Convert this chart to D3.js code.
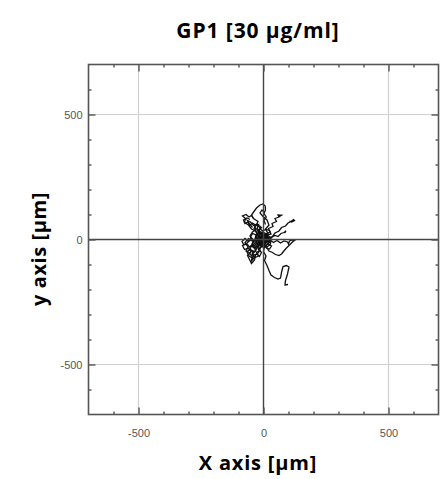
<!DOCTYPE html>
<html><head><meta charset="utf-8">
<script src="https://cdn.jsdelivr.net/npm/d3@7"></script>
<style>body{margin:0;background:#fff}</style>
</head><body>
<svg id="c" width="447" height="479"></svg>
<script>
const title = "GP1 [30 \u03bcg/ml]";
const xLabel = "X axis [\u03bcm]";
const yLabel = "y axis [\u03bcm]";
const domain = [-700, 700];
const majorTicks = [-500, 0, 500];
const minorTicks = d3.range(-600, 601, 100);
const gridValues = [-500, 500];

const trackA = [[0,0],[-8,12],[-4,24],[-18,32],[-12,46],[-28,58],[-22,72],[-40,84],[-48,98],[-38,112],[-28,126],[-14,138],[-2,142],[7,134],[8,118],[2,104],[11,90],[2,76],[8,60]];
const trackB = [[0,0],[14,8],[8,22],[26,30],[20,44],[38,52],[34,64],[52,72],[46,84],[62,90],[58,98],[72,97],[64,92]];
const trackC = [[0,0],[12,-6],[22,8],[36,12],[46,26],[62,34],[72,48],[88,54],[98,66],[110,72],[120,80],[124,76],[112,70],[104,74]];
const trackD = [[0,0],[10,6],[18,-4],[32,8],[46,16],[58,12],[70,24],[82,28],[90,34],[84,26]];
const trackE = [[0,0],[14,-10],[26,-2],[40,-12],[54,-4],[68,-14],[82,-6],[96,-10],[100,-18],[104,-6],[116,-2],[128,-4]];
const trackF = [[0,0],[6,-14],[2,-26],[14,-34],[22,-46],[36,-52],[48,-60],[62,-64],[72,-58],[80,-48],[90,-36],[102,-24],[112,-14],[122,-4]];
const trackG = [[0,0],[-6,-16],[4,-30],[0,-48],[10,-66],[4,-84],[14,-104],[22,-124],[30,-142],[44,-152],[58,-158],[68,-154],[72,-132],[78,-108],[92,-104],[102,-110],[96,-138],[88,-164],[86,-182],[98,-180]];
const trackH = [[0,0],[-14,-6],[-24,4],[-38,-8],[-52,-2],[-66,-14],[-84,-24],[-76,-40],[-60,-34],[-50,-50],[-64,-64],[-56,-80],[-48,-96],[-36,-82],[-32,-62],[-20,-52],[-12,-32],[-2,-20]];
const trackI = [[0,0],[-10,10],[-24,18],[-32,34],[-48,42],[-60,58],[-76,68],[-72,84],[-84,94],[-70,100],[-58,90],[-48,96],[-40,84]];
const trackJ = [[0,0],[10,14],[-4,20],[-16,6],[-8,-10],[6,-18],[18,-6],[12,12],[-2,28],[-20,24],[-28,10],[-22,-8],[-10,-22],[8,-26],[22,-12],[26,8],[12,22],[0,10],[-10,-4],[4,-6]];
const trackK = [[0,0],[-18,-14],[-34,-28],[-46,-18],[-40,-4],[-54,14],[-44,30],[-30,40],[-36,54],[-20,60],[-26,44],[-14,30]];
const trackL = [[0,0],[18,24],[8,42],[22,58],[14,78],[-2,92],[-14,106],[-6,118],[4,108]];
const trackM = [[0,0],[-30,-40],[-42,-58],[-36,-72],[-50,-88],[-44,-70],[-58,-52],[-70,-46],[-62,-30],[-74,-12],[-60,4],[-46,-6]];
const trackN = [[0,0],[-6,20],[-20,36],[-8,48],[-26,62],[-40,56],[-52,70],[-64,76],[-56,62],[-44,48]];
const trackO = [[0,0],[-12,8],[-20,-6],[-34,2],[-30,18],[-44,24],[-52,10],[-40,-10],[-48,-26],[-34,-36],[-22,-24],[-30,-12],[-16,-16],[-6,-30],[6,-22],[-2,-8],[14,2],[6,18],[-8,14]];
const trackP = [[0,0],[8,-8],[20,4],[14,18],[30,22],[24,36],[10,40],[-4,34],[-14,44],[-24,36],[-12,26],[-22,14],[-10,6],[2,16],[16,10],[28,-6],[18,-18],[32,-26],[24,-38],[10,-34]];
const trackQ = [[0,0],[-4,-10],[-18,-20],[-28,-14],[-40,-28],[-30,-46],[-44,-50],[-54,-38],[-66,-50],[-58,-66],[-44,-74],[-38,-62],[-26,-58],[-16,-68],[-8,-52],[-20,-40],[-10,-28]];
const trackR = [[0,0],[6,10],[-6,16],[-14,28],[-28,30],[-38,44],[-30,56],[-44,66],[-56,56],[-62,70],[-74,64],[-80,78],[-66,86],[-54,80]];
const trackS = [[0,0],[-8,-4],[-2,-14],[12,-10],[16,4],[4,8],[-10,4],[-16,-8],[-6,-20],[10,-24],[20,-14],[24,2],[14,14],[-2,18],[-16,12],[-22,0],[-18,-16],[-4,-28],[14,-30],[28,-18],[30,4]];
const trackT = [[0,0],[-24,6],[-36,-4],[-50,6],[-62,-6],[-74,4],[-86,-8],[-78,-22],[-66,-18],[-56,-30],[-46,-22],[-36,-34],[-24,-26]];
const trackU = [[0,0],[4,12],[-8,8],[-12,-4],[0,-10],[10,-2],[8,14],[-6,22],[-18,16],[-24,2],[-14,-12],[2,-16],[14,-8],[18,8],[6,26],[-12,30],[-26,22],[-32,6],[-26,-14],[-12,-26]];
const trackV = [[0,0],[-10,-18],[-22,-30],[-14,-44],[-28,-52],[-20,-66],[-34,-72],[-46,-60],[-40,-46],[-54,-40],[-48,-24],[-36,-16],[-26,-4]];
const tracks = [trackA,trackB,trackC,trackD,trackE,trackF,trackG,trackH,trackI,trackJ,trackK,trackL,trackM,trackN,trackO,trackP,trackQ,trackR,trackS,trackT,trackU,trackV];

const svg = d3.select("#c");
const L = 88.5, T = 64.5, W = 350, H = 350;
const x = d3.scaleLinear().domain(domain).range([L, L+W]);
const y = d3.scaleLinear().domain(domain).range([T+H, T]);
const g = svg.append("g");

// grid
g.selectAll(".gx").data(gridValues).join("line")
  .attr("x1", d=>x(d)).attr("x2", d=>x(d)).attr("y1", T).attr("y2", T+H)
  .attr("stroke", "#d0d0d0").attr("stroke-width", 1.2);
g.selectAll(".gy").data(gridValues).join("line")
  .attr("y1", d=>y(d)).attr("y2", d=>y(d)).attr("x1", L).attr("x2", L+W)
  .attr("stroke", "#d0d0d0").attr("stroke-width", 1.2);

// tracks
const line = d3.line().x(d=>x(d[0])).y(d=>y(d[1]));
g.selectAll(".trk").data(tracks).join("path")
  .attr("d", line).attr("fill", "none").attr("stroke", "#111").attr("stroke-width", 1.3);

// zero lines
g.append("line").attr("x1", x(0)).attr("x2", x(0)).attr("y1", T).attr("y2", T+H).attr("stroke", "#444").attr("stroke-width", 1.4);
g.append("line").attr("y1", y(0)).attr("y2", y(0)).attr("x1", L).attr("x2", L+W).attr("stroke", "#444").attr("stroke-width", 1.4);

// axes with inward ticks
function styleAxis(sel){
  sel.select(".domain").remove();
  sel.selectAll(".tick line").attr("stroke", "#555").attr("stroke-width", 1.4);
  sel.selectAll(".tick text").attr("fill", "#555").attr("font-family", "Liberation Sans, Arial, sans-serif").attr("font-size", 11);
}
const isMajor = d => majorTicks.includes(d);
[["b", d3.axisBottom(x), `translate(0,${T+H})`, true, 15],
 ["t", d3.axisTop(x), `translate(0,${T})`, false, 0],
 ["l", d3.axisLeft(y), `translate(${L},0)`, true, 6],
 ["r", d3.axisRight(y), `translate(${L+W},0)`, false, 0]].forEach(([k, ax, tr, lab, pad])=>{
  ax.tickValues(minorTicks).tickSize(0).tickPadding(pad).tickFormat(d => lab && isMajor(d) ? d : "");
  const a = g.append("g").attr("transform", tr).call(ax);
  styleAxis(a);
  a.selectAll(".tick line").each(function(d){
    const len = isMajor(d) ? 7 : 3;
    const s = d3.select(this);
    if (k==="b") s.attr("y2", -len);
    if (k==="t") s.attr("y2", len);
    if (k==="l") s.attr("x2", len);
    if (k==="r") s.attr("x2", -len);
  });
});

// frame
g.append("rect").attr("x", L).attr("y", T).attr("width", W).attr("height", H)
  .attr("fill", "none").attr("stroke", "#555").attr("stroke-width", 1.6);

// labels
const font = "'Open Sans', Lato, sans-serif";
svg.append("text").attr("x", 258).attr("y", 38).attr("text-anchor", "middle")
  .attr("font-family", font).attr("font-weight", "bold").attr("font-size", 21).attr("letter-spacing", 0.9).attr("fill", "#000").text(title);
svg.append("text").attr("x", 258).attr("y", 470).attr("text-anchor", "middle")
  .attr("font-family", font).attr("font-weight", "bold").attr("font-size", 20).attr("letter-spacing", 0.8).attr("fill", "#000").text(xLabel);
svg.append("text").attr("transform", "translate(46,249) rotate(-90)").attr("text-anchor", "middle")
  .attr("font-family", font).attr("font-weight", "bold").attr("font-size", 20).attr("letter-spacing", 0.6).attr("fill", "#000").text(yLabel);
</script>
</body></html>
